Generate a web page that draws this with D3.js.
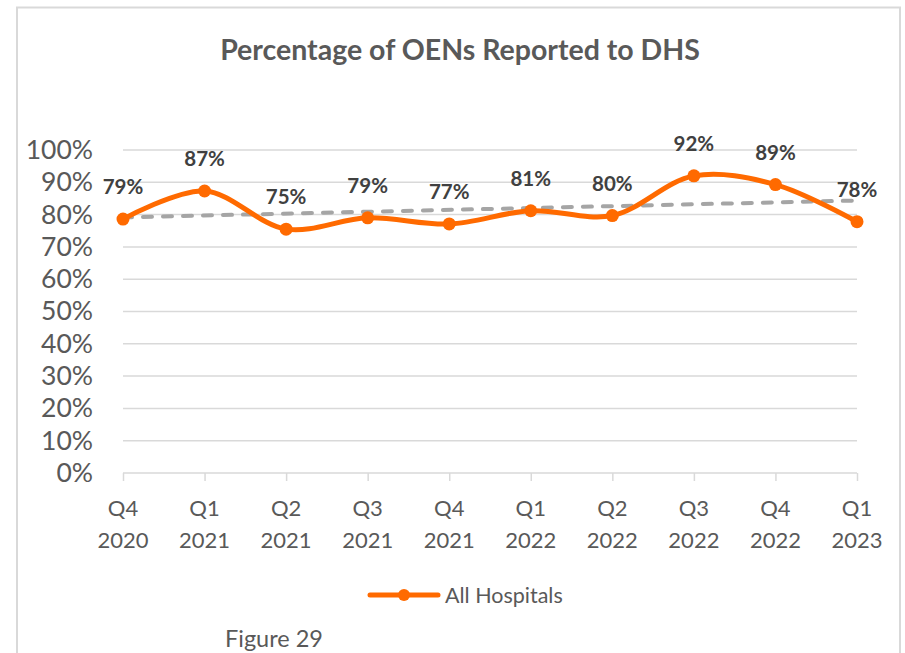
<!DOCTYPE html>
<html>
<head>
<meta charset="utf-8">
<script src="https://cdn.jsdelivr.net/npm/d3@7"></script>
<style>
  html, body { margin: 0; padding: 0; background: #fff; }
  svg { display: block; }
  text { font-family: Lato, "Open Sans", sans-serif; }
</style>
</head>
<body>
<svg id="chart" width="905" height="653"></svg>
<script>
// ---- Data ----
const quarters = ["Q4", "Q1", "Q2", "Q3", "Q4", "Q1", "Q2", "Q3", "Q4", "Q1"];
const years = ["2020", "2021", "2021", "2021", "2021", "2022", "2022", "2022", "2022", "2023"];
const values = [0.786, 0.873, 0.755, 0.79, 0.771, 0.812, 0.797, 0.92, 0.893, 0.778];
const valueLabels = ["79%", "87%", "75%", "79%", "77%", "81%", "80%", "92%", "89%", "78%"];
const yTicks = [0, 0.1, 0.2, 0.3, 0.4, 0.5, 0.6, 0.7, 0.8, 0.9, 1.0];
const seriesName = "All Hospitals";
const title = "Percentage of OENs Reported to DHS";
const caption = "Figure 29";

const svg = d3.select("#chart");
const orange = "#FF6A00";
const gridColor = "#D9D9D9";
const textColor = "#595959";

// chart border
svg.append("rect")
  .attr("x", 17).attr("y", 7.5)
  .attr("width", 883).attr("height", 660)
  .attr("fill", "none")
  .attr("stroke", gridColor)
  .attr("stroke-width", 2);

const idx = d3.range(values.length);
const x = d3.scaleLinear().domain([0, values.length - 1]).range([123, 857]);
const y = d3.scaleLinear().domain([0, 1]).range([473, 150]);

// title
svg.append("text")
  .attr("x", 460).attr("y", 59.5)
  .attr("text-anchor", "middle")
  .attr("font-size", 28.5)
  .attr("font-weight", "bold")
  .attr("fill", textColor)
  .text(title);

// gridlines
svg.append("g")
  .selectAll("line")
  .data(yTicks.filter(d => d > 0))
  .join("line")
  .attr("x1", x(0)).attr("x2", x(values.length - 1))
  .attr("y1", d => y(d)).attr("y2", d => y(d))
  .attr("stroke", gridColor)
  .attr("stroke-width", 1.5);

// y axis labels
const yAxis = d3.axisLeft(y)
  .tickValues(yTicks)
  .tickFormat(d3.format(".0%"))
  .tickSize(0)
  .tickPadding(0);
const yg = svg.append("g").attr("transform", "translate(93,0)").call(yAxis);
yg.select(".domain").remove();
yg.selectAll("text")
  .attr("font-family", "Lato, 'Open Sans', sans-serif")
  .attr("font-size", 26.5)
  .attr("fill", textColor);

// x axis
const xAxis = d3.axisBottom(x)
  .tickValues(idx)
  .tickSize(8)
  .tickFormat("");
const xg = svg.append("g").attr("transform", `translate(0,${y(0)})`).call(xAxis);
xg.select(".domain").attr("stroke", gridColor).attr("stroke-width", 1.5)
  .attr("d", `M${x(0)},0H${x(values.length - 1)}`);
xg.selectAll(".tick line").attr("stroke", gridColor).attr("stroke-width", 1.5);

const xl = svg.append("g");
xl.selectAll("text.q")
  .data(idx)
  .join("text")
  .attr("class", "q")
  .attr("x", d => x(d)).attr("y", 516)
  .attr("text-anchor", "middle")
  .attr("font-size", 22)
  .attr("fill", textColor)
  .text(d => quarters[d]);
xl.selectAll("text.yr")
  .data(idx)
  .join("text")
  .attr("class", "yr")
  .attr("x", d => x(d)).attr("y", 548)
  .attr("text-anchor", "middle")
  .attr("font-size", 22)
  .attr("fill", textColor)
  .text(d => years[d]);

// linear trendline (least squares)
const n = values.length;
const mx = d3.mean(idx), my = d3.mean(values);
const slope = d3.sum(idx, i => (i - mx) * (values[i] - my)) / d3.sum(idx, i => (i - mx) * (i - mx));
const intercept = my - slope * mx;
svg.append("line")
  .attr("x1", x(0)).attr("y1", y(intercept))
  .attr("x2", x(n - 1)).attr("y2", y(intercept + slope * (n - 1)))
  .attr("stroke", "#A5A5A5")
  .attr("stroke-width", 4)
  .attr("stroke-linecap", "round")
  .attr("stroke-dasharray", "9,11");

// series line
const line = d3.line()
  .x((d, i) => x(i))
  .y(d => y(d))
  .curve(d3.curveCatmullRom.alpha(0.5));
svg.append("path")
  .datum(values)
  .attr("d", line)
  .attr("fill", "none")
  .attr("stroke", orange)
  .attr("stroke-width", 5)
  .attr("stroke-linejoin", "round")
  .attr("stroke-linecap", "round");

svg.append("g")
  .selectAll("circle")
  .data(values)
  .join("circle")
  .attr("cx", (d, i) => x(i))
  .attr("cy", d => y(d))
  .attr("r", 6.5)
  .attr("fill", orange);

// data labels
svg.append("g")
  .selectAll("text")
  .data(values)
  .join("text")
  .attr("x", (d, i) => x(i))
  .attr("y", d => y(d) - 25)
  .attr("text-anchor", "middle")
  .attr("font-size", 20.5)
  .attr("font-weight", "bold")
  .attr("fill", "#404040")
  .text((d, i) => valueLabels[i]);

// legend
const lg = svg.append("g");
lg.append("line")
  .attr("x1", 370).attr("x2", 438)
  .attr("y1", 595).attr("y2", 595)
  .attr("stroke", orange).attr("stroke-width", 5)
  .attr("stroke-linecap", "round");
lg.append("circle")
  .attr("cx", 404).attr("cy", 595).attr("r", 6)
  .attr("fill", orange);
lg.append("text")
  .attr("x", 445).attr("y", 602.5)
  .attr("font-size", 21.5)
  .attr("fill", textColor)
  .text(seriesName);

// caption
svg.append("text")
  .attr("x", 225).attr("y", 647)
  .attr("font-size", 23.5)
  .attr("fill", textColor)
  .text(caption);
</script>
</body>
</html>
